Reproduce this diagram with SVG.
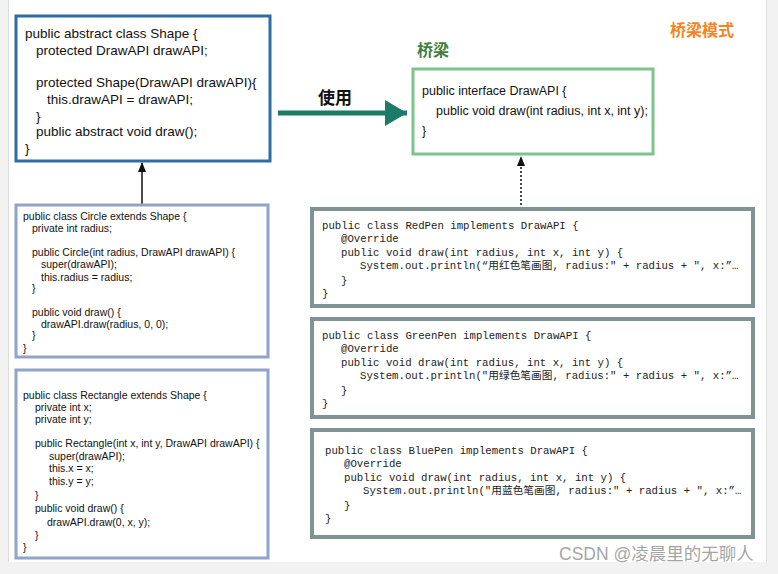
<svg xmlns="http://www.w3.org/2000/svg" width="778" height="574" viewBox="0 0 778 574">
<defs>
<style>
.s{font-family:"Liberation Sans","Noto Sans CJK SC",sans-serif;fill:#111}
.m{font-family:"Liberation Mono","Noto Sans CJK SC",monospace;font-size:10.7px;fill:#222}
.box{fill:#fff}
</style>
<marker id="ah" markerWidth="10" markerHeight="10" refX="9" refY="5" orient="auto" markerUnits="userSpaceOnUse"><path d="M0,1 L10,5 L0,9 Z" fill="#111"/></marker>
<marker id="tah" markerWidth="24" markerHeight="30" refX="22" refY="15" orient="auto" markerUnits="userSpaceOnUse"><path d="M0,2 L22,15 L0,28 Z" fill="#1c7a68"/></marker>
</defs>
<rect width="778" height="574" fill="#fff"/>
<rect x="0" y="0" width="8" height="574" fill="#f2f2f2"/>
<rect x="767" y="0" width="11" height="574" fill="#f2f2f2"/>
<rect x="0" y="562" width="778" height="12" fill="#f2f2f2"/>
<line x1="8.5" y1="0" x2="8.5" y2="562" stroke="#ddd"/>
<line x1="766.5" y1="0" x2="766.5" y2="562" stroke="#ddd"/>

<text x="670" y="36" font-family="'Noto Sans CJK SC',sans-serif" font-size="16" font-weight="bold" fill="#f5841f">桥梁模式</text>
<text x="417" y="56" font-family="'Noto Sans CJK SC',sans-serif" font-size="16" font-weight="bold" fill="#3f7f3f">桥梁</text>

<g id="connectors">
<line x1="142" y1="205" x2="142" y2="163" stroke="#111" stroke-width="1.5" marker-end="url(#ah)"/>
<line x1="521" y1="205" x2="521" y2="157" stroke="#111" stroke-width="1.5" stroke-dasharray="2,2" marker-end="url(#ah)"/>
<line x1="278" y1="113" x2="407" y2="113" stroke="#1c7a68" stroke-width="5" marker-end="url(#tah)"/>
<text x="318" y="104" font-family="'Noto Sans CJK SC',sans-serif" font-size="17" font-weight="bold" fill="#111">使用</text>
</g>

<g id="shape">
<rect class="box" x="16" y="16" width="254" height="145" stroke="#2e6da4" stroke-width="3"/>
<g class="s" font-size="13.5">
<text x="25" y="38">public abstract class Shape {</text>
<text x="36" y="55">protected DrawAPI drawAPI;</text>
<text x="36" y="87">protected Shape(DrawAPI drawAPI){</text>
<text x="47" y="104">this.drawAPI = drawAPI;</text>
<text x="36" y="121">}</text>
<text x="36" y="136">public abstract void draw();</text>
<text x="25" y="153">}</text>
</g>
</g>

<g id="drawapi">
<rect class="box" x="413" y="69" width="240" height="85" stroke="#7dc48a" stroke-width="3"/>
<g class="s" font-size="12.5">
<text x="422" y="95">public interface DrawAPI {</text>
<text x="436" y="115">public void draw(int radius, int x, int y);</text>
<text x="422" y="135">}</text>
</g>
</g>

<g id="circle">
<rect class="box" x="16" y="205" width="252" height="152" stroke="#8fa4c8" stroke-width="3"/>
<g class="s" font-size="10.5">
<text x="23" y="220">public class Circle extends Shape {</text>
<text x="32" y="232">private int radius;</text>
<text x="32" y="256">public Circle(int radius, DrawAPI drawAPI) {</text>
<text x="41" y="268">super(drawAPI);</text>
<text x="41" y="281">this.radius = radius;</text>
<text x="32" y="292">}</text>
<text x="32" y="316">public void draw() {</text>
<text x="41" y="328">drawAPI.draw(radius, 0, 0);</text>
<text x="32" y="339">}</text>
<text x="23" y="352">}</text>
</g>
</g>

<g id="rectangle">
<rect class="box" x="16" y="370" width="252" height="188" stroke="#8fa4c8" stroke-width="3"/>
<g class="s" font-size="10.5">
<text x="23" y="399">public class Rectangle extends Shape {</text>
<text x="35" y="411">private int x;</text>
<text x="35" y="423">private int y;</text>
<text x="35" y="447">public Rectangle(int x, int y, DrawAPI drawAPI) {</text>
<text x="49" y="460">super(drawAPI);</text>
<text x="49" y="472">this.x = x;</text>
<text x="49" y="485">this.y = y;</text>
<text x="35" y="499">}</text>
<text x="35" y="512">public void draw() {</text>
<text x="47" y="526">drawAPI.draw(0, x, y);</text>
<text x="35" y="539">}</text>
<text x="23" y="551">}</text>
</g>
</g>

<g id="redpen">
<rect class="box" x="312" y="209" width="441" height="97" stroke="#7f9395" stroke-width="4"/>
<text class="m" x="322" y="229">public class RedPen implements DrawAPI {</text>
<text class="m" x="341" y="242">@Override</text>
<text class="m" x="341" y="256">public void draw(int radius, int x, int y) {</text>
<text class="m" x="360" y="269">System.out.println(“用红色笔画图, radius:" + radius + ", x:”…</text>
<text class="m" x="341" y="284">}</text>
<text class="m" x="322" y="297">}</text>
</g>

<g id="greenpen">
<rect class="box" x="312" y="319" width="441" height="98" stroke="#7f9395" stroke-width="4"/>
<text class="m" x="322" y="339">public class GreenPen implements DrawAPI {</text>
<text class="m" x="341" y="352">@Override</text>
<text class="m" x="341" y="366">public void draw(int radius, int x, int y) {</text>
<text class="m" x="360" y="379">System.out.println("用绿色笔画图, radius:" + radius + ", x:”…</text>
<text class="m" x="341" y="394">}</text>
<text class="m" x="322" y="407">}</text>
</g>

<g id="bluepen">
<rect class="box" x="312" y="430" width="441" height="107" stroke="#7f9395" stroke-width="4"/>
<text class="m" x="325" y="454">public class BluePen implements DrawAPI {</text>
<text class="m" x="344" y="467">@Override</text>
<text class="m" x="344" y="481">public void draw(int radius, int x, int y) {</text>
<text class="m" x="363" y="494">System.out.println("用蓝色笔画图, radius:" + radius + ", x:”…</text>
<text class="m" x="344" y="509">}</text>
<text class="m" x="325" y="522">}</text>
</g>

<text x="559" y="560" font-family="'Liberation Sans','Noto Sans CJK SC',sans-serif" font-size="17.5" fill="#999" fill-opacity="0.9">CSDN @凌晨里的无聊人</text>
</svg>
